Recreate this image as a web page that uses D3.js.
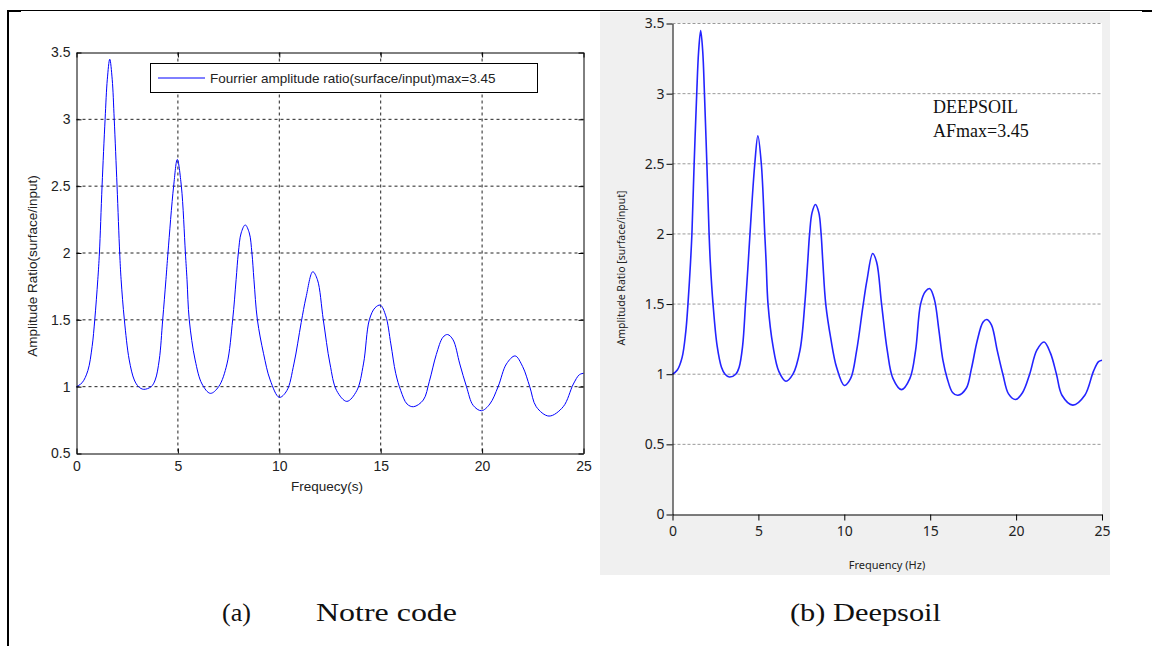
<!DOCTYPE html>
<html>
<head>
<meta charset="utf-8">
<script src="https://cdn.jsdelivr.net/npm/d3@7"></script>
<style>
  body { margin: 0; background: #fff; }
  svg { display: block; }
</style>
</head>
<body>
<div id="fig"></div>
<script>
// page set up
const FRAME_WIDTH = 1152;
const FRAME_HEIGHT = 646;

// amplitude ratio (both panels show the same spectrum)
const FREQ = [0, 0.28, 0.56, 0.77, 0.90, 1.05, 1.13, 1.26, 1.41, 1.52, 1.64, 1.76, 1.86, 2.00, 2.13, 2.20,
  2.36, 2.60, 2.85, 3.06, 3.31, 3.68, 3.88, 4.08, 4.25, 4.41, 4.51, 4.79, 4.97, 5.17, 5.37, 5.45,
  5.56, 5.85, 6.19, 6.60, 7.01, 7.42, 7.70, 7.87, 7.98, 8.12, 8.32, 8.52, 8.65, 8.75,
  8.92, 9.22, 9.55, 10.0, 10.37, 10.72, 11.08, 11.32, 11.65, 11.88, 12.17, 12.5, 12.83,
  13.33, 13.82, 14.15, 14.44, 14.72, 14.98, 15.25, 15.5, 15.74, 15.99, 16.3, 16.62,
  17.1, 17.4, 17.74, 18.07, 18.3, 18.57, 18.9, 19.23, 19.56, 19.97, 20.38, 20.79, 21.2,
  21.63, 22.0, 22.35, 22.67, 23.3, 24.0, 24.5, 24.8, 25.0];
const AMP = [1.00, 1.03, 1.12, 1.30, 1.50, 1.80, 2.00, 2.50, 3.00, 3.30, 3.45, 3.30, 3.00, 2.50, 2.00, 1.80,
  1.50, 1.20, 1.05, 1.00, 0.98, 1.00, 1.05, 1.20, 1.50, 1.80, 2.00, 2.50, 2.70, 2.50, 2.00, 1.80,
  1.50, 1.20, 1.02, 0.95, 1.00, 1.17, 1.50, 1.80, 2.00, 2.15, 2.21, 2.15, 2.00, 1.80,
  1.50, 1.25, 1.05, 0.92, 0.97, 1.17, 1.48, 1.67, 1.86, 1.80, 1.50, 1.17, 0.97,
  0.89, 0.97, 1.17, 1.50, 1.59, 1.61, 1.53, 1.32, 1.10, 0.97, 0.87, 0.85,
  0.90, 1.04, 1.24, 1.37, 1.39, 1.35, 1.17, 1.00, 0.86, 0.82, 0.87, 1.00, 1.17,
  1.23, 1.15, 1.00, 0.85, 0.78, 0.85, 1.02, 1.09, 1.10];

const X_TICKS = [0, 5, 10, 15, 20, 25];
const Y_TICKS_A = [0.5, 1, 1.5, 2, 2.5, 3, 3.5];
const Y_TICKS_B = [0, 0.5, 1, 1.5, 2, 2.5, 3, 3.5];
const LEGEND_TEXT = "Fourrier amplitude ratio(surface/input)max=3.45";
const NOTE_LINES = ["DEEPSOIL", "AFmax=3.45"];

const TICK_FMT = d3.format("~g");

const SVG = d3.select("#fig")
  .append("svg")
  .attr("width", FRAME_WIDTH)
  .attr("height", FRAME_HEIGHT);

// table cell frame
SVG.append("line").attr("x1", 7).attr("x2", FRAME_WIDTH).attr("y1", 10.5).attr("y2", 10.5)
  .attr("stroke", "#000").attr("stroke-width", 1);
SVG.append("line").attr("x1", 8).attr("x2", 8).attr("y1", 10).attr("y2", FRAME_HEIGHT)
  .attr("stroke", "#000").attr("stroke-width", 2);
SVG.append("line").attr("x1", 7).attr("x2", 21).attr("y1", 11).attr("y2", 11)
  .attr("stroke", "#000").attr("stroke-width", 2);
SVG.append("line").attr("x1", 1142).attr("x2", FRAME_WIDTH).attr("y1", 11).attr("y2", 11)
  .attr("stroke", "#000").attr("stroke-width", 2);

// ---------- panel (a) : matlab style ----------
function build_panel_a() {
  const X_SCALE = d3.scaleLinear().domain([0, 25]).range([76.5, 583.5]);
  const Y_SCALE = d3.scaleLinear().domain([0.5, 3.5]).range([453.5, 52.5]);
  const g = SVG.append("g").attr("font-family", "'Liberation Sans', Arial, sans-serif");

  // dotted grid
  g.append("g").selectAll("line").data(X_TICKS.slice(1, -1)).enter().append("line")
    .attr("x1", (d) => X_SCALE(d)).attr("x2", (d) => X_SCALE(d))
    .attr("y1", 52.5).attr("y2", 453.5)
    .attr("stroke", "#222").attr("stroke-dasharray", "3,3");
  g.append("g").selectAll("line").data(Y_TICKS_A.slice(1, -1)).enter().append("line")
    .attr("y1", (d) => Y_SCALE(d)).attr("y2", (d) => Y_SCALE(d))
    .attr("x1", 76.5).attr("x2", 583.5)
    .attr("stroke", "#222").attr("stroke-dasharray", "3,3");

  // curve
  g.append("path")
    .datum(FREQ.map((f, i) => [f, AMP[i]]))
    .attr("fill", "none").attr("stroke", "#0000ff").attr("stroke-width", 1)
    .attr("d", d3.line().x((d) => X_SCALE(d[0])).y((d) => Y_SCALE(d[1])).curve(d3.curveCatmullRom.alpha(0.5)));

  // box with inside ticks
  const axes = [
    g.append("g").attr("transform", "translate(0," + 453.5 + ")")
      .call(d3.axisBottom(X_SCALE).tickValues(X_TICKS).tickFormat(TICK_FMT).tickSizeInner(-5).tickSizeOuter(0).tickPadding(8)),
    g.append("g").attr("transform", "translate(0," + 52.5 + ")")
      .call(d3.axisTop(X_SCALE).tickValues(X_TICKS).tickSizeInner(-5).tickSizeOuter(0).tickFormat("")),
    g.append("g").attr("transform", "translate(" + 76.5 + ",0)")
      .call(d3.axisLeft(Y_SCALE).tickValues(Y_TICKS_A).tickFormat(TICK_FMT).tickSizeInner(-5).tickSizeOuter(0).tickPadding(6)),
    g.append("g").attr("transform", "translate(" + 583.5 + ",0)")
      .call(d3.axisRight(Y_SCALE).tickValues(Y_TICKS_A).tickSizeInner(-5).tickSizeOuter(0).tickFormat(""))
  ];
  axes.forEach((a) => {
    a.attr("font-size", "14px").attr("font-family", null);
    a.selectAll("text").attr("fill", "#222");
  });

  g.append("text").attr("x", 327).attr("y", 491).attr("text-anchor", "middle")
    .attr("font-size", "13.5px").attr("fill", "#222").text("Frequecy(s)");
  g.append("text").attr("transform", "translate(37,266) rotate(-90)").attr("text-anchor", "middle")
    .attr("font-size", "13.5px").attr("fill", "#222").text("Amplitude Ratio(surface/input)");

  // legend
  g.append("rect").attr("x", 150.5).attr("y", 63.5).attr("width", 387).attr("height", 29)
    .attr("fill", "#fff").attr("stroke", "#000");
  g.append("line").attr("x1", 158).attr("x2", 205).attr("y1", 78).attr("y2", 78)
    .attr("stroke", "#0000ff");
  g.append("text").attr("x", 210).attr("y", 83).attr("font-size", "13.5px").attr("fill", "#222")
    .text(LEGEND_TEXT);
}

// ---------- panel (b) : deepsoil style ----------
function build_panel_b() {
  const X_SCALE = d3.scaleLinear().domain([0, 25]).range([672.5, 1102]);
  const Y_SCALE = d3.scaleLinear().domain([0, 3.5]).range([514.5, 23.5]);
  const g = SVG.append("g").attr("font-family", "'Noto Sans', 'Liberation Sans', sans-serif");

  g.append("rect").attr("x", 600).attr("y", 12).attr("width", 510).attr("height", 563).attr("fill", "#f0f0f0");
  g.append("rect").attr("x", 672.5).attr("y", 23).attr("width", 1102 - 672.5).attr("height", 514.5 - 23)
    .attr("fill", "#fff");

  g.append("g").selectAll("line").data(Y_TICKS_B.slice(1)).enter().append("line")
    .attr("y1", (d) => Y_SCALE(d)).attr("y2", (d) => Y_SCALE(d))
    .attr("x1", 672.5).attr("x2", 1102)
    .attr("stroke", "#9a9a9a").attr("stroke-dasharray", "3,2");

  g.append("path")
    .datum(FREQ.map((f, i) => [f, AMP[i]]))
    .attr("fill", "none").attr("stroke", "#2424ff").attr("stroke-width", 1.6)
    .attr("d", d3.line().x((d) => X_SCALE(d[0])).y((d) => Y_SCALE(d[1])).curve(d3.curveCatmullRom.alpha(0.5)));

  const xa = g.append("g").attr("transform", "translate(0," + 514.5 + ")")
    .call(d3.axisBottom(X_SCALE).tickValues(X_TICKS).tickFormat(TICK_FMT).tickSize(6).tickSizeOuter(0).tickPadding(6));
  const ya = g.append("g").attr("transform", "translate(" + 672.5 + ",0)")
    .call(d3.axisLeft(Y_SCALE).tickValues(Y_TICKS_B).tickFormat(TICK_FMT).tickSize(6).tickSizeOuter(0).tickPadding(2));
  [xa, ya].forEach((a) => {
    a.attr("font-size", "14px").attr("font-family", null);
    a.selectAll("text").attr("fill", "#222");
  });

  g.append("text").attr("x", 887).attr("y", 569).attr("text-anchor", "middle")
    .attr("font-size", "11px").attr("fill", "#222").text("Frequency (Hz)");
  g.append("text").attr("transform", "translate(625,268) rotate(-90)").attr("text-anchor", "middle")
    .attr("font-size", "10.5px").attr("fill", "#222").text("Amplitude Ratio [surface/input]");

  g.selectAll(".note").data(NOTE_LINES).enter().append("text")
    .attr("x", 933).attr("y", (d, i) => 113 + i * 23.5)
    .attr("font-family", "'Liberation Serif', 'Times New Roman', serif")
    .attr("font-size", "18px").attr("fill", "#111").text((d) => d);
}

// captions
function build_captions() {
  const cap = SVG.append("g").attr("font-family", "'Liberation Serif', 'Times New Roman', serif")
    .attr("font-size", "26px").attr("fill", "#111");
  cap.append("text").attr("x", 222).attr("y", 621).attr("textLength", 29)
    .attr("lengthAdjust", "spacingAndGlyphs").text("(a)");
  cap.append("text").attr("x", 316).attr("y", 621).attr("textLength", 141)
    .attr("lengthAdjust", "spacingAndGlyphs").text("Notre code");
  cap.append("text").attr("x", 790).attr("y", 621).attr("textLength", 151)
    .attr("lengthAdjust", "spacingAndGlyphs").text("(b) Deepsoil");
}

build_panel_a();
build_panel_b();
build_captions();
</script>
</body>
</html>
